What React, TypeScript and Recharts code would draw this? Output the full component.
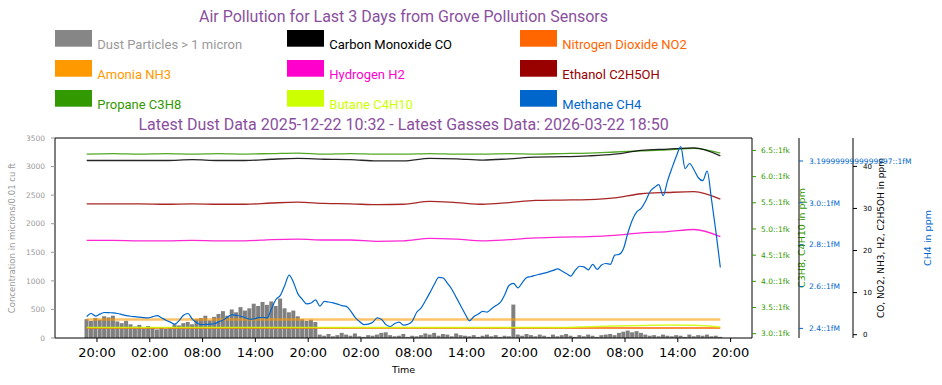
import React from 'react';
import { ComposedChart, Bar, Line, XAxis, YAxis, Legend, ReferenceLine } from 'recharts';

// first reading at 18:50, dust + methane every 30 minutes
const START_HOUR = 18 + 50 / 60;
const STEP_HOURS = 0.5;
// slow gasses are sampled every 3 hours (every 6th row)
const SPARSE_EVERY = 6;

const DUST = [
  330, 300, 350, 320, 380, 360, 390, 290, 260, 300,
  240, 200, 230, 170, 210, 180, 150, 190, 160, 190,
  240, 220, 260, 280, 240, 330, 350, 390, 310, 370,
  420, 470, 390, 500, 450, 540, 480, 520, 600, 560,
  630, 580, 640, 560, 690, 520, 450, 480, 380, 330,
  300, 320, 280, 60, 40, 70, 30, 50, 90, 60,
  40, 80, 30, 20, 50, 40, 60, 90, 100, 50,
  30, 40, 70, 20, 40, 30, 50, 80, 60, 90,
  40, 70, 60, 30, 80, 50, 40, 30, 50, 20,
  40, 60, 30, 50, 20, 40, 30, 585, 60, 40,
  70, 50, 30, 60, 40, 20, 60, 30, 50, 70,
  40, 20, 50, 30, 60, 40, 20, 50, 60, 70,
  50, 90, 110, 130, 100, 120, 90, 60, 40, 50,
  30, 60, 40, 30, 50, 40, 20, 60, 30, 50,
  40, 60, 30, 40, 20,
];

const CH4 = [
  2.456, 2.471, 2.459, 2.468, 2.476, 2.475, 2.474, 2.471, 2.466, 2.461,
  2.458, 2.456, 2.454, 2.451, 2.450, 2.456, 2.461, 2.451, 2.439, 2.430,
  2.420, 2.437, 2.463, 2.471, 2.444, 2.427, 2.418, 2.419, 2.420, 2.422,
  2.431, 2.440, 2.454, 2.465, 2.462, 2.458, 2.451, 2.444, 2.445, 2.451,
  2.452, 2.450, 2.494, 2.538, 2.558, 2.605, 2.655, 2.619, 2.565, 2.539,
  2.517, 2.521, 2.536, 2.506, 2.529, 2.526, 2.522, 2.516, 2.509, 2.505,
  2.483, 2.453, 2.433, 2.418, 2.420, 2.429, 2.450, 2.443, 2.418, 2.409,
  2.423, 2.430, 2.416, 2.420, 2.435, 2.477, 2.498, 2.533, 2.571, 2.611,
  2.644, 2.641, 2.615, 2.586, 2.547, 2.508, 2.469, 2.436, 2.457, 2.469,
  2.481, 2.478, 2.494, 2.509, 2.524, 2.561, 2.606, 2.615, 2.594, 2.619,
  2.643, 2.648, 2.654, 2.659, 2.664, 2.670, 2.677, 2.684, 2.674, 2.662,
  2.650, 2.677, 2.697, 2.694, 2.680, 2.706, 2.682, 2.703, 2.710, 2.706,
  2.750, 2.754, 2.782, 2.857, 2.918, 2.957, 2.974, 3.008, 3.053, 3.073,
  3.087, 3.034, 3.105, 3.166, 3.223, 3.269, 3.164, 3.188, 3.158, 3.120,
  3.106, 3.152, 3.015, 2.861, 2.691,
];

const CO = [41.4, 41.4, 41.4, 41.4, 41.6, 41.4, 41.4, 41.7, 41.9, 41.7, 41.6, 41.3, 41.3, 41.9, 41.8, 41.5, 41.8, 42.2, 42.3, 42.5, 42.9, 43.8, 44.1, 44.4, 42.5];
const ETHANOL = [31.1, 31.1, 31.1, 31.0, 31.1, 31.0, 31.0, 31.3, 31.5, 31.2, 31.1, 30.9, 31.0, 31.7, 31.4, 31.0, 31.4, 31.9, 32.0, 32.1, 32.5, 33.5, 33.8, 34.0, 32.2];
const H2 = [22.4, 22.4, 22.3, 22.3, 22.4, 22.3, 22.3, 22.6, 22.7, 22.5, 22.5, 22.2, 22.3, 22.9, 22.7, 22.3, 22.6, 23.0, 23.2, 23.3, 23.6, 24.2, 24.5, 25.0, 23.3];
const NH3 = [3.6, 3.6, 3.6, 3.6, 3.6, 3.6, 3.6, 3.6, 3.6, 3.6, 3.6, 3.6, 3.6, 3.6, 3.6, 3.6, 3.6, 3.6, 3.6, 3.6, 3.6, 3.6, 3.6, 3.6, 3.6];
const NO2 = [1.6, 1.6, 1.6, 1.6, 1.6, 1.6, 1.6, 1.6, 1.6, 1.6, 1.6, 1.6, 1.6, 1.6, 1.6, 1.6, 1.6, 1.6, 1.6, 1.6, 1.6, 1.6, 1.6, 1.6, 1.6];
const PROPANE = [6.43, 6.44, 6.43, 6.44, 6.43, 6.44, 6.43, 6.44, 6.45, 6.43, 6.44, 6.43, 6.43, 6.44, 6.43, 6.43, 6.44, 6.43, 6.44, 6.45, 6.47, 6.49, 6.51, 6.54, 6.45];
const BUTANE = [3.12, 3.12, 3.12, 3.12, 3.12, 3.12, 3.12, 3.12, 3.12, 3.12, 3.12, 3.12, 3.12, 3.12, 3.12, 3.12, 3.12, 3.12, 3.12, 3.135, 3.145, 3.155, 3.165, 3.16, 3.13];

const X_TICKS = [20, 26, 32, 38, 44, 50, 56, 62, 68, 74, 80, 86, 92];
const DUST_TICKS = [0, 500, 1000, 1500, 2000, 2500, 3000, 3500];
const C3_TICKS = [3.0, 3.5, 4.0, 4.5, 5.0, 5.5, 6.0, 6.5];
const C3_TICK_LABELS = ['3.0::1fk', '3.5::1fk', '4.0::1fk', '4.5::1fk', '5.0::1fk', '5.5::1fk', '6.0::1fk', '6.5::1fk'];
const CH4_TICKS = [2.4, 2.6, 2.8, 3.0, 3.2];
const CH4_TICK_LABELS = ['2.4::1fM', '2.6::1fM', '2.8::1fM', '3.0::1fM', '3.1999999999999997::1fM'];
const PPM_TICKS = [0, 10, 20, 30, 40];

const TITLE = 'Air Pollution for Last 3 Days from Grove Pollution Sensors';
const SUBTITLE = 'Latest Dust Data 2025-12-22 10:32 - Latest Gasses Data: 2026-03-22 18:50';

const COLORS = {
  dust: '#808080',
  co: '#000000',
  no2: '#ff6600',
  nh3: '#ff9900',
  h2: '#ff00cc',
  ethanol: '#990000',
  propane: '#339900',
  butane: '#ccff00',
  ch4: '#0066cc',
  title: '#8a4f9e',
};

// column-major, 3 rows per column
const LEGEND_ITEMS = [
  { name: 'Dust Particles > 1 micron', fill: '#868686', text: '#999999' },
  { name: 'Amonia NH3', fill: COLORS.nh3, text: COLORS.nh3 },
  { name: 'Propane C3H8', fill: COLORS.propane, text: COLORS.propane },
  { name: 'Carbon Monoxide CO', fill: COLORS.co, text: COLORS.co },
  { name: 'Hydrogen H2', fill: COLORS.h2, text: COLORS.h2 },
  { name: 'Butane C4H10', fill: COLORS.butane, text: COLORS.butane },
  { name: 'Nitrogen Dioxide NO2', fill: COLORS.no2, text: COLORS.no2 },
  { name: 'Ethanol C2H5OH', fill: COLORS.ethanol, text: COLORS.ethanol },
  { name: 'Methane CH4', fill: COLORS.ch4, text: COLORS.ch4 },
];
const LEGEND_COL_X = [55, 287, 520];

const data = DUST.map((dust, i) => {
  const j = i % SPARSE_EVERY === 0 ? i / SPARSE_EVERY : -1;
  const pick = (arr: number[]) => (j >= 0 ? arr[j] : null);
  return {
    t: START_HOUR + i * STEP_HOURS,
    dust,
    ch4: CH4[i],
    co: pick(CO),
    ethanol: pick(ETHANOL),
    h2: pick(H2),
    nh3: pick(NH3),
    no2: pick(NO2),
    propane: pick(PROPANE),
    butane: pick(BUTANE),
  };
});

const AXIS_FONT = 'DejaVu Sans';

const hourLabel = (h: number) => `${String(((h % 24) + 24) % 24).padStart(2, '0')}:00`;
const labelFor = (ticks: number[], labels: string[]) => (v: number) => {
  const idx = ticks.findIndex((x) => Math.abs(x - v) < 1e-6);
  return idx >= 0 ? labels[idx] : String(v);
};

const AxisTitle = ({ viewBox, title, tint, shift, size }: any) => {
  const { x = 0, y = 0, height = 0 } = viewBox || {};
  const cx = x + shift;
  const cy = y + height / 2;
  return (
    <text
      x={cx}
      y={cy}
      transform={`rotate(-90 ${cx} ${cy})`}
      textAnchor="middle"
      dominantBaseline="central"
      fill={tint}
      fontSize={size}
      fontFamily={AXIS_FONT}
    >
      {title}
    </text>
  );
};

const TimeTitle = ({ viewBox }: any) => {
  const { x = 0, y = 0, width = 0 } = viewBox || {};
  return (
    <text x={x + width / 2} y={y + 35.3} textAnchor="middle" fill="#000" fontSize={9.5} fontFamily={AXIS_FONT}>
      Time
    </text>
  );
};

const ChartHeader = () => (
  <svg width={942} height={135} style={{ display: 'block', overflow: 'visible' }}>
    <text x={403.5} y={21.5} textAnchor="middle" fontSize={16} fill={COLORS.title} fontFamily="Roboto">
      {TITLE}
    </text>
    {LEGEND_ITEMS.map((item, i) => {
      const x = LEGEND_COL_X[Math.floor(i / 3)];
      const y = 30 + (i % 3) * 30;
      return (
        <g key={item.name}>
          <rect x={x} y={y} width={37} height={16.7} fill={item.fill} />
          <text x={x + 42.3} y={y + 19} fontSize={13} fill={item.text} fontFamily="Roboto">
            {item.name}
          </text>
        </g>
      );
    })}
    <text x={403.5} y={129.5} textAnchor="middle" fontSize={16} fill={COLORS.title} fontFamily="Roboto">
      {SUBTITLE}
    </text>
  </svg>
);

const App: React.FC = () => {
  return (
    <div style={{ position: 'absolute', left: 0, top: 0, width: 942, height: 385, background: '#fff' }}>
      <ComposedChart width={942} height={385} data={data} margin={{ top: 138, right: 49, bottom: 0, left: 0 }}>
        <XAxis
          dataKey="t"
          type="number"
          domain={[15.23, 94.43]}
          allowDataOverflow
          ticks={X_TICKS}
          interval={0}
          tickFormatter={hourLabel}
          height={47}
          tickSize={4}
          tickMargin={6}
          stroke="#000"
          tick={{ fill: '#000', fontSize: 13, fontFamily: AXIS_FONT }}
          label={<TimeTitle />}
        />
        <YAxis
          yAxisId="dust"
          orientation="left"
          width={55}
          domain={[0, 3500]}
          allowDataOverflow
          ticks={DUST_TICKS}
          interval={0}
          tickSize={4}
          tickMargin={6}
          axisLine={{ stroke: '#000' }}
          tickLine={{ stroke: '#999' }}
          tick={{ fill: '#999', fontSize: 7.5, fontFamily: AXIS_FONT }}
          label={<AxisTitle title="Concentration in microns/0.01 cu ft" tint="#999" shift={12} size={8.5} />}
        />
        <YAxis
          yAxisId="c3"
          orientation="right"
          width={47}
          domain={[2.918, 6.737]}
          allowDataOverflow
          ticks={C3_TICKS}
          interval={0}
          tickFormatter={labelFor(C3_TICKS, C3_TICK_LABELS)}
          tickSize={4}
          tickMargin={5}
          axisLine={{ stroke: '#000' }}
          tickLine={{ stroke: COLORS.propane }}
          tick={{ fill: COLORS.propane, fontSize: 7.5, fontFamily: AXIS_FONT }}
          label={<AxisTitle title="C3H8, C4H10 in ppm" tint={COLORS.propane} shift={49} size={9.5} />}
        />
        <YAxis
          yAxisId="ch4"
          orientation="right"
          width={54}
          domain={[2.354, 3.31]}
          allowDataOverflow
          ticks={CH4_TICKS}
          interval={0}
          tickFormatter={labelFor(CH4_TICKS, CH4_TICK_LABELS)}
          tickSize={4}
          tickMargin={6}
          axisLine={{ stroke: '#000' }}
          tickLine={{ stroke: COLORS.ch4 }}
          tick={{ fill: COLORS.ch4, fontSize: 7.5, fontFamily: AXIS_FONT }}
          label={<AxisTitle title="CH4 in ppm" tint={COLORS.ch4} shift={128} size={9.5} />}
        />
        <YAxis
          yAxisId="ppm"
          orientation="right"
          width={40}
          domain={[-0.79, 46.75]}
          allowDataOverflow
          ticks={PPM_TICKS}
          interval={0}
          tickSize={4}
          tickMargin={6}
          axisLine={{ stroke: '#000' }}
          tickLine={{ stroke: '#000' }}
          tick={{ fill: '#000', fontSize: 7, fontFamily: AXIS_FONT }}
          label={<AxisTitle title="CO, NO2, NH3, H2, C2H5OH in ppm" tint="#000" shift={28} size={9} />}
        />
        <ReferenceLine yAxisId="dust" y={3500} stroke="#000" strokeWidth={1} />
        <Legend
          verticalAlign="middle"
          align="center"
          layout="horizontal"
          wrapperStyle={{ top: 0, left: 0, width: 942, height: 135 }}
          content={() => <ChartHeader />}
        />
        <Bar yAxisId="dust" dataKey="dust" fill={COLORS.dust} barSize={4} isAnimationActive={false} />
        <Line yAxisId="ppm" dataKey="nh3" type="monotone" stroke={COLORS.nh3} strokeOpacity={0.6} strokeWidth={2.5} dot={false} connectNulls isAnimationActive={false} />
        <Line yAxisId="ppm" dataKey="no2" type="monotone" stroke={COLORS.no2} strokeWidth={1.5} dot={false} connectNulls isAnimationActive={false} />
        <Line yAxisId="c3" dataKey="butane" type="monotone" stroke={COLORS.butane} strokeOpacity={0.85} strokeWidth={1.5} dot={false} connectNulls isAnimationActive={false} />
        <Line yAxisId="c3" dataKey="propane" type="monotone" stroke={COLORS.propane} strokeOpacity={0.85} strokeWidth={1.3} dot={false} connectNulls isAnimationActive={false} />
        <Line yAxisId="ppm" dataKey="co" type="monotone" stroke={COLORS.co} strokeOpacity={0.85} strokeWidth={1.3} dot={false} connectNulls isAnimationActive={false} />
        <Line yAxisId="ppm" dataKey="ethanol" type="monotone" stroke={COLORS.ethanol} strokeOpacity={0.85} strokeWidth={1.3} dot={false} connectNulls isAnimationActive={false} />
        <Line yAxisId="ppm" dataKey="h2" type="monotone" stroke={COLORS.h2} strokeOpacity={0.85} strokeWidth={1.3} dot={false} connectNulls isAnimationActive={false} />
        <Line yAxisId="ch4" dataKey="ch4" type="monotone" stroke={COLORS.ch4} strokeWidth={1.2} dot={false} isAnimationActive={false} />
      </ComposedChart>
    </div>
  );
};

export default App;
